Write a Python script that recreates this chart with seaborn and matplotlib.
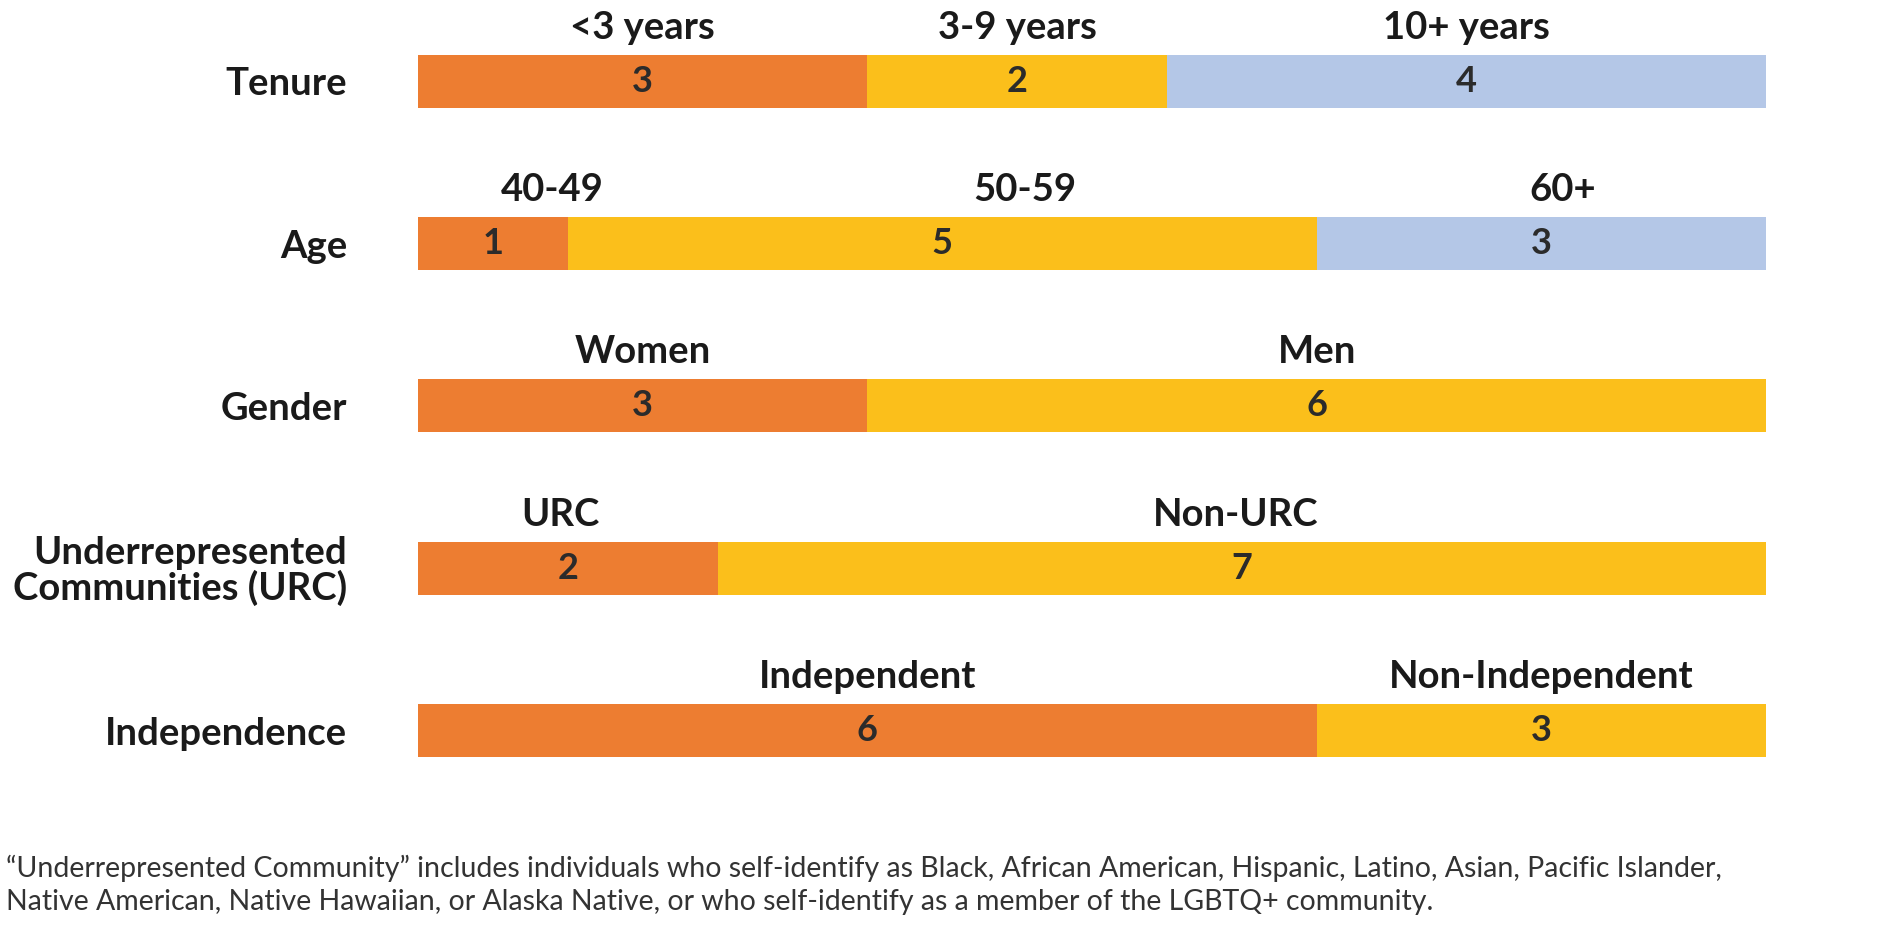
import numpy as np
import pandas as pd
import seaborn as sns
import matplotlib.pyplot as plt

# board composition, 9 directors per row
rows = ["Tenure", "Age", "Gender", "Underrepresented\nCommunities (URC)", "Independence"]
tenure = [3, 2, 4]
age = [1, 5, 3]
gender = [3, 6]
urc = [2, 7]
independence = [6, 3]
seg_labels = [
    ["<3 years", "3-9 years", "10+ years"],
    ["40-49", "50-59", "60+"],
    ["Women", "Men"],
    ["URC", "Non-URC"],
    ["Independent", "Non-Independent"],
]
counts = [tenure, age, gender, urc, independence]

# label nudges (data units) - age labels sit a bit off centre in the original
label_shift = [[0, 0, 0], [0.4, 0.55, 0.14], [0, 0], [-0.05, -0.04], [0, 0]]

colors = ["#ED7D31", "#FBBF1B", "#B4C7E7"]
note = ("\u201cUnderrepresented Community\u201d includes individuals who self-identify as Black, "
        "African American, Hispanic, Latino, Asian, Pacific Islander,\n"
        "Native American, Native Hawaiian, or Alaska Native, or who self-identify as a member "
        "of the LGBTQ+ community.")

sns.set_theme(style="white")
plt.rcParams["font.family"] = ["Lato", "DejaVu Sans"]

fig = plt.figure(figsize=(18.92, 9.32), dpi=100)
ax = fig.add_axes([0.2209, 0.129, 0.7125, 0.871])

bar_h = 0.326
# stacked bars: draw cumulative ends, longest first so shorter ones sit on top
for k in [2, 1, 0]:
    ys, xs = [], []
    for r, c in zip(rows, counts):
        if k < len(c):
            ys.append(r)
            xs.append(sum(c[:k + 1]))
    sns.barplot(x=xs, y=ys, order=rows, color=colors[k], width=bar_h,
                orient="h", saturation=1, ax=ax, linewidth=0)

for i, c in enumerate(counts):
    left = 0
    for j, v in enumerate(c):
        mid = left + v / 2
        ax.text(mid, i, str(v), ha="center", va="center", fontsize=26,
                fontweight="bold", color="#2b2b2b")
        ax.text(mid + label_shift[i][j], i - 0.33, seg_labels[i][j], ha="center",
                va="center", fontsize=27.5, fontweight="bold", color="#1a1a1a",
                clip_on=False)
        left += v

ax.set_xlim(0, 9)
ax.set_ylim(4.5, -0.5)
ax.set_xlabel("")
ax.set_ylabel("")
ax.set_xticks([])
ax.tick_params(axis="y", length=0, pad=51)
for t in ax.get_yticklabels():
    t.set_fontsize(27.5)
    t.set_fontweight("bold")
    t.set_color("#1a1a1a")
    t.set_linespacing(1.0)
sns.despine(ax=ax, left=True, bottom=True)

fig.text(0.003, 0.083, note, ha="left", va="top", fontsize=20.5,
         color="#333333", linespacing=1.35)

fig.savefig("out.png", dpi=100, facecolor="white")
